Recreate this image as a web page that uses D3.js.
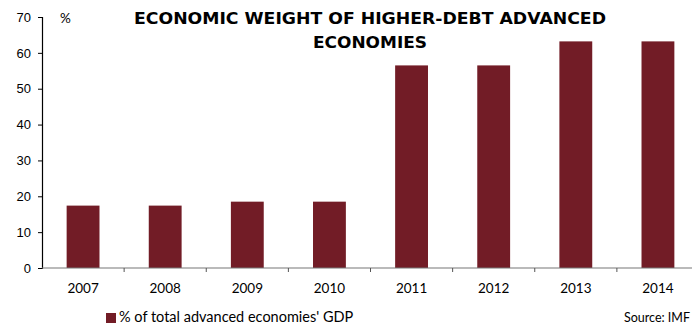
<!DOCTYPE html>
<html>
<head>
<meta charset="utf-8">
<script src="https://cdn.jsdelivr.net/npm/d3@7"></script>
<style>
  html, body { margin: 0; padding: 0; background: #fff; }
  svg { display: block; font-family: Lato, "Open Sans", sans-serif; }
</style>
</head>
<body>
<svg id="chart" width="692" height="325"></svg>
<script>
// Share of higher-debt economies in total advanced-economy GDP
const years = ["2007", "2008", "2009", "2010", "2011", "2012", "2013", "2014"];
const values = [17.4, 17.4, 18.5, 18.5, 56.5, 56.5, 63.2, 63.2];
const yTicks = [0, 10, 20, 30, 40, 50, 60, 70];
const titleLines = ["ECONOMIC WEIGHT OF HIGHER-DEBT ADVANCED", "ECONOMIES"];
const legendLabel = "% of total advanced economies' GDP";
const sourceLabel = "Source: IMF";

const barColor = "#721c26";
const svg = d3.select("#chart");

const x = d3.scaleBand().domain(years).range([42, 699]).paddingInner(0.6).paddingOuter(0.3);
const y = d3.scaleLinear().domain([0, 70]).range([268, 17]);

// bars
svg.append("g").selectAll("rect")
  .data(years.map((yr, i) => ({ yr, v: values[i] })))
  .join("rect")
  .attr("x", d => x(d.yr))
  .attr("width", x.bandwidth())
  .attr("y", d => y(d.v))
  .attr("height", d => y(0) - y(d.v))
  .attr("fill", barColor);

// y axis
const yAxis = svg.append("g").attr("transform", "translate(42,0)")
  .call(d3.axisLeft(y).tickValues(yTicks).tickSize(4).tickPadding(7));
yAxis.select(".domain").attr("stroke", "#000").attr("stroke-width", 1.2);
yAxis.selectAll(".tick line").attr("stroke", "#000");
yAxis.selectAll(".tick text").attr("font-size", 13).attr("fill", "#000");

// x axis: ticks at category boundaries
const step = x.step();
const x0 = x.range()[0];
const boundaries = d3.range(0, years.length + 1).map(i => x0 + i * step);
svg.append("line")
  .attr("x1", 42).attr("x2", 699).attr("y1", y(0)).attr("y2", y(0))
  .attr("stroke", "#777").attr("stroke-width", 1.2);
svg.append("g").selectAll("line")
  .data(boundaries.slice(1))
  .join("line")
  .attr("x1", d => d).attr("x2", d => d)
  .attr("y1", y(0)).attr("y2", y(0) + 4)
  .attr("stroke", "#555");
svg.append("g").selectAll("text")
  .data(years)
  .join("text")
  .attr("x", d => x(d) + x.bandwidth() / 2)
  .attr("y", 293)
  .attr("text-anchor", "middle")
  .attr("font-size", 13.5)
  .attr("fill", "#000")
  .text(d => d);

// unit label
svg.append("text").attr("x", 60).attr("y", 23).attr("font-size", 13.5).attr("fill", "#000").text("%");

// title
const titleWidths = [472, 114];
svg.append("g").selectAll("text")
  .data(titleLines)
  .join("text")
  .attr("x", 370)
  .attr("y", (d, i) => 24 + i * 24)
  .attr("text-anchor", "middle")
  .attr("font-family", "'DejaVu Sans', sans-serif")
  .attr("font-size", 15.5)
  .attr("font-weight", "bold")
  .attr("textLength", (d, i) => titleWidths[i])
  .attr("lengthAdjust", "spacingAndGlyphs")
  .attr("fill", "#000")
  .text(d => d);

// legend
svg.append("rect").attr("x", 106).attr("y", 313).attr("width", 10).attr("height", 10).attr("fill", barColor);
svg.append("text").attr("x", 119).attr("y", 322).attr("font-size", 14.5).attr("fill", "#000").text(legendLabel);

// source
svg.append("text").attr("x", 690).attr("y", 322).attr("text-anchor", "end").attr("font-size", 12.5).attr("fill", "#000").text(sourceLabel);
</script>
</body>
</html>
